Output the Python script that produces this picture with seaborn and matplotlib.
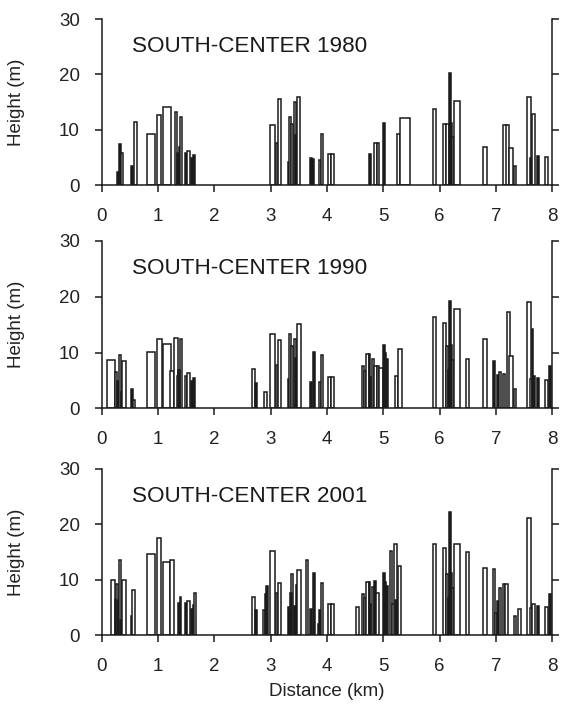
import matplotlib
matplotlib.use("Agg")
import matplotlib.pyplot as plt
import seaborn as sns
import pandas as pd

# ---------------- data (left edge km, width km, height m) ----------------
left_1980 = [0.27, 0.30, 0.33, 0.515, 0.575, 0.805, 0.97, 1.085, 1.29, 1.34, 1.37, 1.39,
             1.475, 1.51, 1.59, 1.62, 2.99, 3.09, 3.13, 3.30, 3.32, 3.355, 3.41, 3.43,
             3.47, 3.70, 3.74, 3.85, 3.89, 4.02, 4.07, 4.75, 4.835, 4.88, 5.00, 5.25,
             5.30, 5.89, 6.07, 6.115, 6.17, 6.19, 6.215, 6.26, 6.77, 7.135, 7.19, 7.24,
             7.32, 7.56, 7.61, 7.65, 7.73, 7.88]
width_1980 = [0.03, 0.03, 0.05, 0.03, 0.055, 0.145, 0.08, 0.135, 0.05, 0.03, 0.03, 0.04,
              0.035, 0.05, 0.03, 0.03, 0.08, 0.04, 0.05, 0.03, 0.045, 0.045, 0.04, 0.03,
              0.055, 0.03, 0.03, 0.04, 0.04, 0.05, 0.05, 0.03, 0.045, 0.045, 0.03, 0.05,
              0.18, 0.04, 0.045, 0.045, 0.03, 0.03, 0.045, 0.10, 0.07, 0.07, 0.05, 0.06,
              0.04, 0.06, 0.03, 0.05, 0.03, 0.05]
height_1980 = [2.4, 7.4, 5.9, 3.4, 11.5, 9.35, 12.7, 14.1, 13.25, 5.75, 6.9, 12.4,
               5.75, 6.2, 4.85, 5.4, 10.9, 7.7, 15.65, 4.2, 12.4, 11.15, 15.0, 9.0,
               15.9, 4.85, 4.7, 4.6, 9.35, 5.6, 5.6, 5.6, 7.55, 7.55, 11.3, 9.2,
               12.2, 13.8, 11.0, 11.15, 20.3, 11.3, 8.75, 15.3, 6.9, 10.9, 10.9, 6.8,
               3.5, 15.9, 5.0, 12.95, 5.3, 5.15]

left_1990 = [0.095, 0.225, 0.265, 0.30, 0.33, 0.355, 0.515, 0.545, 0.805, 0.97, 1.085,
             1.215, 1.285, 1.34, 1.385, 1.36, 1.48, 1.515, 1.59, 1.62, 2.66, 2.725, 2.88,
             2.99, 3.09, 3.13, 3.30, 3.32, 3.355, 3.41, 3.43, 3.47, 3.70, 3.745, 3.85,
             3.89, 4.02, 4.07, 4.62, 4.66, 4.70, 4.74, 4.76, 4.80, 4.835, 4.88, 4.93,
             4.99, 5.025, 5.05, 5.215, 5.255, 5.89, 6.07, 6.11, 6.15, 6.17, 6.19, 6.215,
             6.26, 6.475, 6.77, 6.945, 7.02, 7.06, 7.12, 7.20, 7.24, 7.32, 7.56, 7.60,
             7.64, 7.66, 7.73, 7.88, 7.95]
width_1990 = [0.14, 0.04, 0.035, 0.045, 0.03, 0.075, 0.035, 0.045, 0.145, 0.09, 0.135,
              0.06, 0.06, 0.04, 0.045, 0.03, 0.04, 0.045, 0.03, 0.03, 0.065, 0.035, 0.06,
              0.085, 0.04, 0.05, 0.03, 0.045, 0.045, 0.04, 0.03, 0.06, 0.03, 0.035, 0.04,
              0.04, 0.05, 0.05, 0.04, 0.04, 0.04, 0.03, 0.03, 0.04, 0.045, 0.05, 0.06,
              0.035, 0.025, 0.03, 0.04, 0.075, 0.04, 0.045, 0.04, 0.03, 0.03, 0.03, 0.045,
              0.10, 0.055, 0.07, 0.035, 0.03, 0.04, 0.045, 0.05, 0.07, 0.04, 0.06, 0.04,
              0.03, 0.03, 0.03, 0.05, 0.03]
height_1990 = [8.6, 6.5, 4.9, 9.5, 3.0, 8.5, 3.5, 1.4, 10.1, 12.35, 11.6,
               6.65, 12.65, 5.8, 12.35, 6.9, 5.7, 6.3, 4.9, 5.45, 7.1, 4.6, 2.9,
               13.4, 7.8, 12.2, 5.3, 13.25, 11.15, 12.4, 9.0, 15.2, 4.8, 10.1, 4.7,
               9.5, 5.6, 5.6, 7.55, 6.65, 9.7, 9.65, 5.6, 8.8, 7.6, 7.6, 7.3,
               11.4, 9.85, 8.8, 5.8, 10.7, 16.4, 15.35, 11.2, 6.8, 19.2, 11.4, 8.7,
               17.8, 8.9, 12.35, 8.4, 5.9, 6.5, 6.2, 17.3, 9.35, 3.5, 19.1, 5.2,
               14.3, 5.75, 5.4, 5.15, 7.5]

left_2001 = [0.165, 0.225, 0.25, 0.27, 0.30, 0.32, 0.355, 0.515, 0.54, 0.805, 0.97, 1.085,
             1.215, 1.345, 1.38, 1.475, 1.51, 1.59, 1.61, 1.64, 2.66, 2.725, 2.855, 2.90,
             2.915, 2.99, 3.09, 3.13, 3.30, 3.32, 3.36, 3.35, 3.41, 3.44, 3.47, 3.62,
             3.70, 3.745, 3.835, 3.86, 3.89, 4.02, 4.07, 4.52, 4.62, 4.66, 4.70, 4.74,
             4.76, 4.80, 4.835, 4.87, 4.99, 5.025, 5.05, 5.12, 5.16, 5.195, 5.215, 5.255,
             5.89, 6.07, 6.11, 6.15, 6.17, 6.19, 6.215, 6.26, 6.475, 6.77, 6.945, 6.98,
             7.02, 7.06, 7.12, 7.17, 7.32, 7.40, 7.56, 7.61, 7.65, 7.73, 7.88, 7.95]
width_2001 = [0.06, 0.025, 0.04, 0.03, 0.04, 0.03, 0.075, 0.03, 0.05, 0.145, 0.08, 0.13,
              0.06, 0.035, 0.03, 0.035, 0.05, 0.03, 0.03, 0.04, 0.065, 0.035, 0.045, 0.03,
              0.03, 0.085, 0.04, 0.05, 0.03, 0.03, 0.04, 0.03, 0.03, 0.03, 0.06, 0.04,
              0.03, 0.035, 0.025, 0.03, 0.04, 0.05, 0.05, 0.04, 0.04, 0.04, 0.04, 0.03,
              0.03, 0.04, 0.035, 0.06, 0.035, 0.025, 0.03, 0.04, 0.04, 0.045, 0.035, 0.065,
              0.04, 0.045, 0.04, 0.03, 0.03, 0.03, 0.045, 0.10, 0.055, 0.07, 0.04, 0.04,
              0.03, 0.04, 0.045, 0.05, 0.04, 0.05, 0.06, 0.04, 0.05, 0.03, 0.05, 0.03]
height_2001 = [9.95, 6.5, 9.2, 6.4, 13.55, 2.75, 9.95, 3.5, 8.1, 14.6, 17.6, 13.2,
               13.55, 5.75, 6.85, 5.75, 6.2, 4.8, 5.45, 7.7, 7.0, 4.5, 4.55, 7.4,
               8.9, 15.2, 7.7, 9.5, 5.15, 4.2, 11.1, 7.55, 5.2, 9.0, 11.7, 13.5,
               4.8, 11.3, 2.0, 4.55, 9.35, 5.6, 5.6, 5.1, 7.5, 6.7, 9.6, 9.6,
               5.6, 8.75, 9.75, 7.55, 11.3, 9.6, 8.9, 15.2, 5.6, 16.5, 6.35, 12.5,
               16.4, 15.75, 11.1, 6.8, 22.2, 11.2, 8.6, 16.4, 15.1, 12.2, 12.0, 4.1,
               6.2, 8.6, 9.3, 9.3, 3.4, 4.8, 21.2, 5.0, 5.7, 5.3, 5.1, 7.4]

panel_titles = ["SOUTH-CENTER 1980", "SOUTH-CENTER 1990", "SOUTH-CENTER 2001"]
x_ticks = [0, 1, 2, 3, 4, 5, 6, 7, 8]
y_ticks = [0, 10, 20, 30]
x_label = "Distance (km)"
y_label = "Height (m)"

panels = [
    pd.DataFrame({"left": left_1980, "width": width_1980, "height": height_1980}),
    pd.DataFrame({"left": left_1990, "width": width_1990, "height": height_1990}),
    pd.DataFrame({"left": left_2001, "width": width_2001, "height": height_2001}),
]

# ---------------- style ----------------
sns.set_theme(style="ticks")
plt.rcParams["font.family"] = ["Liberation Sans", "DejaVu Sans"]
ink = "#1a1a1a"
plt.rcParams.update({
    "axes.edgecolor": ink,
    "axes.linewidth": 1.1,
    "xtick.color": ink,
    "ytick.color": ink,
    "xtick.labelcolor": "#222222",
    "ytick.labelcolor": "#222222",
})

fig = plt.figure(figsize=(5.61, 7.06), dpi=100)
ax_rects = [
    [0.1818, 0.7375, 0.8022, 0.2355],
    [0.1818, 0.4217, 0.8022, 0.2370],
    [0.1818, 0.1001, 0.8022, 0.2356],
]

for i, (df, title, rect) in enumerate(zip(panels, panel_titles, ax_rects)):
    ax = fig.add_axes(rect)
    faces = ["#202020" if w < 0.04 else "white" for w in df["width"]]
    ax.bar(df["left"], df["height"], width=df["width"], align="edge",
           color=faces, edgecolor=ink, linewidth=1.1)
    ax.set_xlim(0, 8)
    ax.set_ylim(0, 30)
    ax.set_xticks(x_ticks)
    ax.set_yticks(y_ticks)
    ax.set_xticklabels([str(t) for t in x_ticks])
    ax.set_yticklabels([str(t) for t in y_ticks])
    sns.despine(ax=ax, top=True, right=False)
    ax.tick_params(axis="both", direction="out", length=5, width=1.1,
                   labelsize=13.5, pad=11)
    ax.tick_params(axis="y", right=True, labelright=False)
    ax.set_ylabel(y_label, fontsize=13.5, color="#222222")
    ax.yaxis.set_label_coords(-0.17, 0.5)
    ax.text(0.53, 25, title, fontsize=16.2, va="center", ha="left", color="#1a1a1a")
    if i == 2:
        ax.set_xlabel(x_label, fontsize=13.5, color="#222222", labelpad=6)

fig.savefig("out.png", dpi=100, facecolor="white")
